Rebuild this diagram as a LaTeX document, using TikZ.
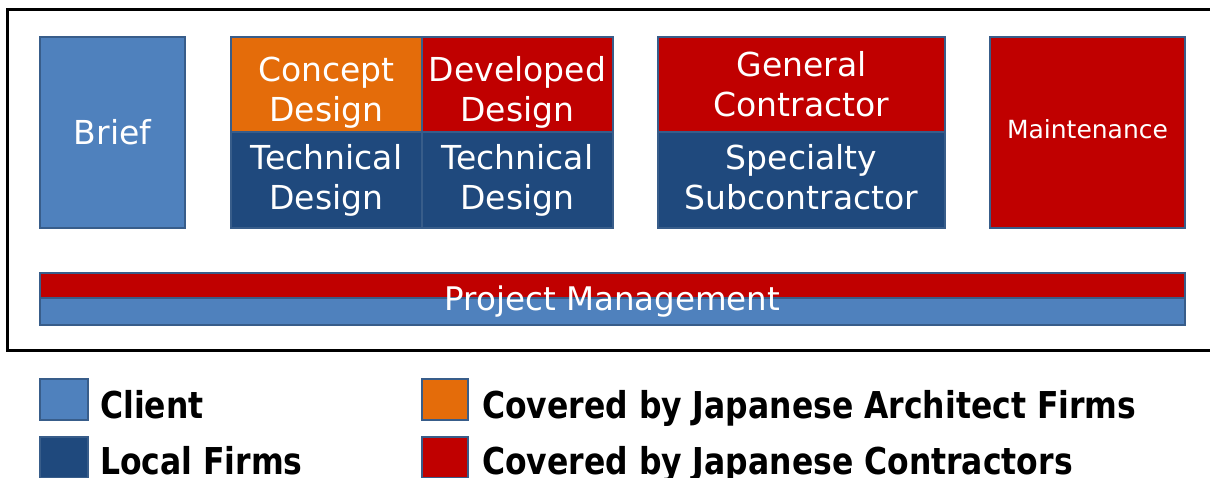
\documentclass[tikz,border=0pt]{standalone}
\usepackage{fontspec}
\setmainfont{DejaVu Sans}
\newfontfamily\legendfont{DejaVu Sans}[FakeStretch=0.85]
\usepackage{tikz}
\usetikzlibrary{positioning}

\definecolor{clientblue}{HTML}{4F81BD}
\definecolor{localblue}{HTML}{1F497D}
\definecolor{edgeblue}{HTML}{385D8A}
\definecolor{archorange}{HTML}{E46C0A}
\definecolor{contred}{HTML}{C00000}

\tikzset{
    cell/.style={rectangle, draw=edgeblue, line width=1.5pt, inner sep=0pt, text=white, align=center, font=\fontsize{33}{40}\selectfont},
    celltext/.style={inner sep=0pt, text=white, align=center, font=\fontsize{33}{40}\selectfont},
    key/.style={rectangle, draw=edgeblue, line width=1.5pt, minimum width=48pt, minimum height=41pt, inner sep=0pt},
    keytext/.style={inner sep=0pt, anchor=base west, font=\legendfont\bfseries\fontsize{37}{40}\selectfont}
}

\begin{document}
\begin{tikzpicture}[x=1pt, y=-1pt]
            \useasboundingbox (0,0) rectangle (1210,478);
            % Frame
            \draw[line width=3pt] (7,10) rectangle (1216,350);

            % Nodes
            \node[cell, fill=clientblue, minimum width=145pt, minimum height=191pt] (brief) at (112.5,132.5) {Brief};
            \node[cell, fill=archorange, minimum width=191pt, minimum height=95pt,
                  label={[celltext, yshift=-8pt]center:{Concept\\Design}}] (concept) at (326.5,84.5) {};
            \node[cell, fill=contred, minimum width=191pt, minimum height=95pt,
                  label={[celltext, yshift=-8pt]center:{Developed\\Design}}] (developed) at (517.5,84.5) {};
            \node[cell, fill=localblue, minimum width=191pt, minimum height=96pt] (tech1) at (326.5,180) {Technical\\Design};
            \node[cell, fill=localblue, minimum width=191pt, minimum height=96pt] (tech2) at (517.5,180) {Technical\\Design};
            \node[cell, fill=contred, minimum width=287pt, minimum height=95pt] (general) at (801.5,84.5) {General\\Contractor};
            \node[cell, fill=localblue, minimum width=287pt, minimum height=96pt,
                  label={[celltext, yshift=3pt]center:{Specialty\\Subcontractor}}] (specialty) at (801.5,180) {};
            \node[cell, fill=contred, minimum width=195pt, minimum height=191pt,
                  label={[celltext, yshift=3pt, font=\fontsize{25}{30}\selectfont]center:Maintenance}] (maint) at (1087.5,132.5) {};

            % Project management bar
            \node[cell, fill=contred, minimum width=1145pt, minimum height=25pt] (pmtop) at (612.5,285.5) {};
            \node[cell, fill=clientblue, minimum width=1145pt, minimum height=27pt] (pmbottom) at (612.5,311.5) {};
            \node[celltext, anchor=base, font=\fontsize{32.5}{40}\selectfont] (pm) at (612.5,310) {Project Management};

            % Legend
            \node[key, fill=clientblue] (clientkey) at (64,399.5) {};
            \node[key, fill=localblue] (localkey) at (64,457.5) {};
            \node[key, fill=archorange, minimum width=46pt] (archkey) at (445,399.5) {};
            \node[key, fill=contred, minimum width=46pt] (contkey) at (445,457.5) {};
            \node[keytext] (clienttext) at (100,418) {Client};
            \node[keytext] (localtext) at (100,474) {Local Firms};
            \node[keytext] (archtext) at (482,418) {Covered by Japanese Architect Firms};
            \node[keytext] (conttext) at (482,474) {Covered by Japanese Contractors};
        \end{tikzpicture}
\end{document}
